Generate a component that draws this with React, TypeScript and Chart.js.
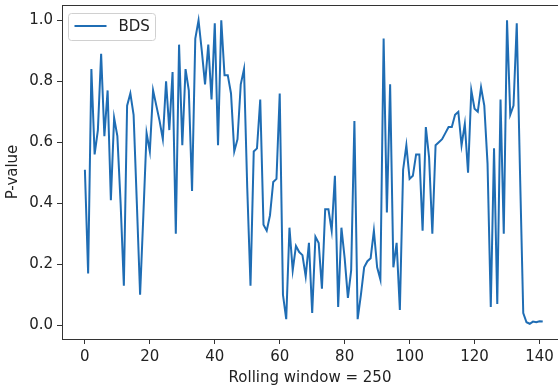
import React, { useEffect, useRef } from "react";
import { Chart, registerables } from "chart.js";

Chart.register(...registerables);

const seriesLabel = "BDS";
const pValues: number[] = [
  0.51, 0.17, 0.84, 0.56, 0.64, 0.89, 0.62, 0.77, 0.41, 0.68,
  0.62, 0.40, 0.13, 0.72, 0.76, 0.69, 0.40, 0.10, 0.36, 0.63,
  0.57, 0.77, 0.72, 0.67, 0.61, 0.80, 0.64, 0.83, 0.30, 0.92,
  0.59, 0.84, 0.77, 0.44, 0.94, 1.00, 0.90, 0.79, 0.92, 0.74,
  0.99, 0.59, 1.00, 0.82, 0.82, 0.76, 0.57, 0.61, 0.79, 0.84,
  0.45, 0.13, 0.57, 0.58, 0.74, 0.33, 0.31, 0.36, 0.47, 0.48,
  0.76, 0.10, 0.02, 0.32, 0.18, 0.26, 0.24, 0.23, 0.16, 0.27,
  0.04, 0.29, 0.27, 0.12, 0.38, 0.38, 0.31, 0.49, 0.06, 0.32,
  0.22, 0.09, 0.18, 0.67, 0.02, 0.10, 0.19, 0.21, 0.22, 0.31,
  0.19, 0.15, 0.94, 0.37, 0.79, 0.19, 0.27, 0.05, 0.51, 0.59,
  0.48, 0.49, 0.56, 0.56, 0.31, 0.65, 0.55, 0.30, 0.59, 0.60,
  0.61, 0.63, 0.65, 0.65, 0.69, 0.70, 0.59, 0.66, 0.50, 0.77,
  0.71, 0.70, 0.78, 0.72, 0.53, 0.06, 0.58, 0.07, 0.74, 0.30,
  1.00, 0.69, 0.72, 0.99, 0.50, 0.04, 0.01, 0.005, 0.012, 0.01,
  0.013, 0.012,
];
const xTicks = [0, 20, 40, 60, 80, 100, 120, 140];
const yTicks = [0, 0.2, 0.4, 0.6, 0.8, 1.0];
const xTitle = "Rolling window = 250";
const yTitle = "P-value";

const FONT = "'DejaVu Sans', sans-serif";
const LINE = "#1f6db4";
const TEXT = "#222";

const framePlugin = {
  id: "frame",
  afterDraw(chart: any) {
    const { ctx, chartArea } = chart;
    ctx.save();
    ctx.strokeStyle = "#333";
    ctx.lineWidth = 1;
    const t = Math.round(chartArea.top) + 0.5;
    ctx.beginPath();
    ctx.moveTo(chartArea.left, t);
    ctx.lineTo(chartArea.right + 2, t);
    ctx.stroke();
    // legend box
    const ds = chart.data.datasets[0];
    const x0 = chartArea.left + 6.5;
    const y0 = chartArea.top + 8.5;
    const w = 87;
    const h = 27;
    const r = 3;
    ctx.beginPath();
    ctx.moveTo(x0 + r, y0);
    ctx.lineTo(x0 + w - r, y0);
    ctx.arcTo(x0 + w, y0, x0 + w, y0 + r, r);
    ctx.lineTo(x0 + w, y0 + h - r);
    ctx.arcTo(x0 + w, y0 + h, x0 + w - r, y0 + h, r);
    ctx.lineTo(x0 + r, y0 + h);
    ctx.arcTo(x0, y0 + h, x0, y0 + h - r, r);
    ctx.lineTo(x0, y0 + r);
    ctx.arcTo(x0, y0, x0 + r, y0, r);
    ctx.closePath();
    ctx.fillStyle = "rgba(255,255,255,0.85)";
    ctx.fill();
    ctx.strokeStyle = "#d0d0d0";
    ctx.stroke();
    ctx.beginPath();
    ctx.strokeStyle = ds.borderColor;
    ctx.lineWidth = 2;
    ctx.moveTo(x0 + 6, y0 + h / 2 - 1);
    ctx.lineTo(x0 + 38, y0 + h / 2 - 1);
    ctx.stroke();
    ctx.fillStyle = TEXT;
    ctx.font = `15px ${FONT}`;
    ctx.textBaseline = "middle";
    ctx.textAlign = "left";
    ctx.fillText(ds.label, x0 + 50, y0 + h / 2);
    ctx.restore();
  },
};

export default function App() {
  const ref = useRef<HTMLCanvasElement | null>(null);
  useEffect(() => {
    if (!ref.current) return;
    const chart = new Chart(ref.current, {
      type: "line",
      data: {
        datasets: [
          {
            label: seriesLabel,
            data: pValues.map((v, i) => ({ x: i, y: v })),
            borderColor: LINE,
            backgroundColor: LINE,
            borderWidth: 2,
            pointRadius: 0,
            tension: 0,
            fill: false,
          },
        ],
      },
      options: {
        animation: false,
        responsive: false,
        maintainAspectRatio: false,
        layout: { padding: { top: 5, right: 0, left: 0, bottom: 0 } },
        plugins: {
          legend: { display: false },
          tooltip: { enabled: false },
        },
        scales: {
          x: {
            type: "linear",
            min: -7.05,
            max: 145.7,
            afterBuildTicks: (s: any) => {
              s.ticks = xTicks.map((v) => ({ value: v }));
            },
            afterFit: (s: any) => {
              s.height = 48;
              s.paddingLeft = 0;
              s.paddingRight = 0;
            },
            grid: {
              display: true,
              drawOnChartArea: false,
              drawTicks: true,
              tickLength: 5,
              color: "#333",
            },
            border: { display: true, color: "#333" },
            ticks: {
              color: TEXT,
              font: { family: FONT, size: 15 },
              padding: 4,
              maxRotation: 0,
              callback: (v: any) => String(v),
            },
            title: {
              display: true,
              text: xTitle,
              color: TEXT,
              font: { family: FONT, size: 15 },
              padding: { top: 0, bottom: 0 },
            },
          },
          y: {
            type: "linear",
            min: -0.045,
            max: 1.05,
            afterBuildTicks: (s: any) => {
              s.ticks = yTicks.map((v) => ({ value: v }));
            },
            afterFit: (s: any) => {
              s.width = 62;
              s.paddingTop = 0;
              s.paddingBottom = 0;
            },
            grid: {
              display: true,
              drawOnChartArea: false,
              drawTicks: true,
              tickLength: 5,
              color: "#333",
            },
            border: { display: true, color: "#333" },
            ticks: {
              color: TEXT,
              font: { family: FONT, size: 15 },
              padding: 4,
              callback: (v: any) => Number(v).toFixed(1),
            },
            title: {
              display: true,
              text: yTitle,
              color: TEXT,
              font: { family: FONT, size: 15 },
              padding: { top: 4, bottom: 0 },
            },
          },
        },
      },
      plugins: [framePlugin],
    });
    return () => chart.destroy();
  }, []);
  return (
    <div style={{ position: "absolute", left: 0, top: 0, width: 558, height: 387, background: "#fff" }}>
      <canvas ref={ref} width={558} height={387} style={{ width: 558, height: 387, display: "block" }} />
    </div>
  );
}
